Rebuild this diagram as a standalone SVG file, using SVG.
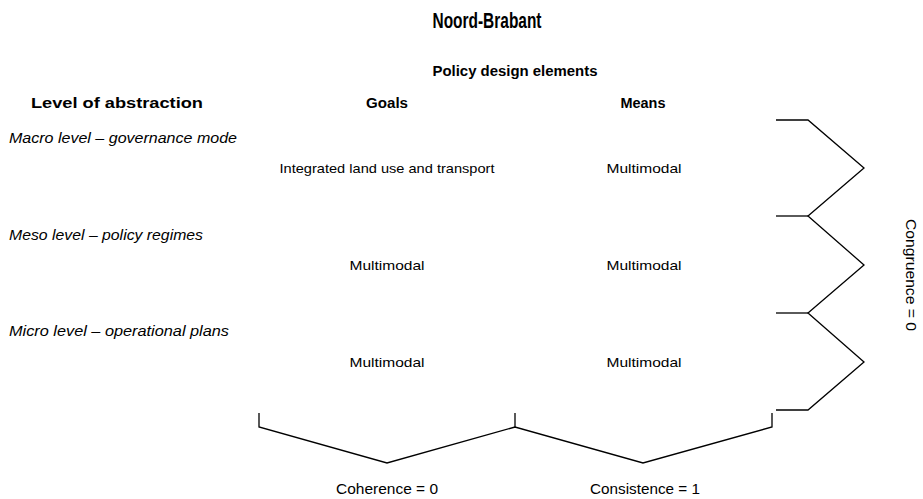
<svg xmlns="http://www.w3.org/2000/svg" width="923" height="499" viewBox="0 0 923 499">
<style>
text{font-family:"Liberation Sans","Open Sans",sans-serif;fill:#000}
.t{font-size:22px;font-weight:bold;text-anchor:middle}
.h{font-size:14px;font-weight:bold;text-anchor:middle}
.l{font-size:14px;font-style:italic}
.c{font-size:13px;text-anchor:middle}
.b{font-size:14px;text-anchor:middle}
.ln{fill:none;stroke:#000;stroke-width:1.3}
</style>
<rect width="923" height="499" fill="#fff"/>
<g id="titles">
<text class="t" x="487" y="28" textLength="109" lengthAdjust="spacingAndGlyphs">Noord-Brabant</text>
<text class="h" x="515" y="76" textLength="165" lengthAdjust="spacingAndGlyphs">Policy design elements</text>
<text class="h" x="117" y="108" textLength="172" lengthAdjust="spacingAndGlyphs">Level of abstraction</text>
<text class="h" x="387" y="108" textLength="42" lengthAdjust="spacingAndGlyphs">Goals</text>
<text class="h" x="643" y="108" textLength="45" lengthAdjust="spacingAndGlyphs">Means</text>
</g>
<g id="levels">
<text class="l" x="9" y="143" textLength="228" lengthAdjust="spacingAndGlyphs">Macro level – governance mode</text>
<text class="l" x="9" y="240" textLength="194" lengthAdjust="spacingAndGlyphs">Meso level – policy regimes</text>
<text class="l" x="9" y="336" textLength="220" lengthAdjust="spacingAndGlyphs">Micro level – operational plans</text>
</g>
<g id="cells">
<text class="c" x="387" y="173" textLength="215" lengthAdjust="spacingAndGlyphs">Integrated land use and transport</text>
<text class="c" x="644" y="173" textLength="75" lengthAdjust="spacingAndGlyphs">Multimodal</text>
<text class="c" x="387" y="270" textLength="75" lengthAdjust="spacingAndGlyphs">Multimodal</text>
<text class="c" x="644" y="270" textLength="75" lengthAdjust="spacingAndGlyphs">Multimodal</text>
<text class="c" x="387" y="367" textLength="75" lengthAdjust="spacingAndGlyphs">Multimodal</text>
<text class="c" x="644" y="367" textLength="75" lengthAdjust="spacingAndGlyphs">Multimodal</text>
</g>
<g id="connectors">
<polyline class="ln" points="259,413 259,427 387,463 515,427 643,463 772,427 772,413"/>
<line class="ln" x1="515" y1="413" x2="515" y2="427"/>
<polyline class="ln" points="776,120 808,120 864,168 808,216 864,265 808,313 864,362 808,410 776,410"/>
<line class="ln" x1="776" y1="216" x2="808" y2="216"/>
<line class="ln" x1="776" y1="313" x2="808" y2="313"/>
</g>
<g id="measures">
<text class="b" x="387" y="494" textLength="102" lengthAdjust="spacingAndGlyphs">Coherence = 0</text>
<text class="b" x="645" y="494" textLength="110" lengthAdjust="spacingAndGlyphs">Consistence = 1</text>
<text class="b" transform="translate(906,275) rotate(90)" x="0" y="0" textLength="112" lengthAdjust="spacingAndGlyphs">Congruence = 0</text>
</g>
</svg>
